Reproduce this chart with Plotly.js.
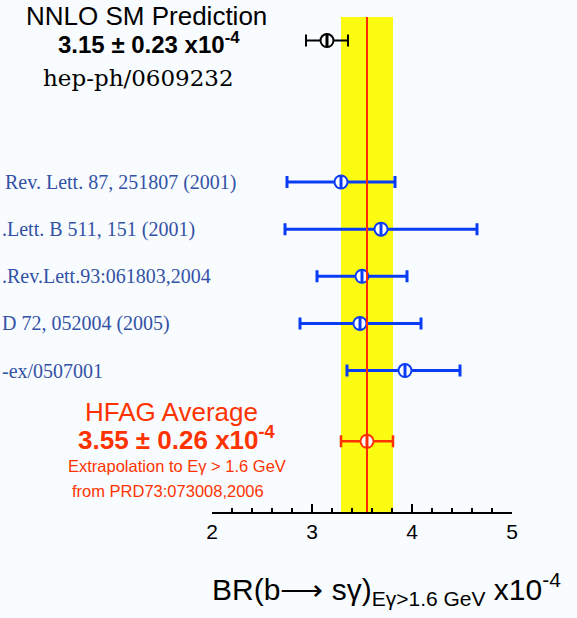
<!DOCTYPE html>
<html>
<head>
<meta charset="utf-8">
<script src="https://cdn.plot.ly/plotly-3.0.1.min.js"></script>
<style>
html,body{margin:0;padding:0;background:#f8fcfe;}
#chart{width:577px;height:618px;}
</style>
</head>
<body>
<div id="chart"></div>
<script>
// ---- data ----
const expLabels = ["Rev. Lett. 87, 251807 (2001)", ".Lett. B 511, 151 (2001)", ".Rev.Lett.93:061803,2004", "D 72, 052004 (2005)", "-ex/0507001"];
const expValues = [3.29, 3.69, 3.50, 3.48, 3.93];
const expErrPlus = [0.54, 0.96, 0.45, 0.61, 0.55];
const expErrMinus = [0.54, 0.96, 0.45, 0.60, 0.58];
const smValue = [3.15];
const smErr = [0.21];
const hfagValue = [3.55];
const hfagErr = [0.26];
const xTicks = [2, 3, 4, 5];

// ---- row layout (computed) ----
const hfagRow = [0];
const expRows = expValues.map((v, i) => 1.5 + (expValues.length - 1 - i));
const smRow = [expRows[0] + 3];

const L = 212, R = 65, T = 17, B = 106, W = 577, H = 618;
const pw = W - L - R, ph = H - T - B;
const px = p => (p - L) / pw;
const py = p => (H - B - p) / ph;

const blue = "#0a3cf5", black = "#000000", red = "#ff3300";

function markerLayers(xs, ys, col) {
  return [
    {x: xs, y: ys, type: "scatter", mode: "markers", hoverinfo: "skip",
     marker: {symbol: "circle", size: 15, color: col, line: {width: 0}}},
    {x: xs, y: ys, type: "scatter", mode: "markers", hoverinfo: "skip",
     marker: {symbol: "circle", size: 11, color: "#ffffff", line: {width: 0}}},
    {x: xs, y: ys, type: "scatter", mode: "markers", hoverinfo: "skip",
     marker: {symbol: "line-ns-open", size: 10, color: col, line: {width: 3, color: col}}}
  ];
}

const traces = [
  {x: expValues, y: expRows, type: "scatter", mode: "markers", hoverinfo: "skip",
   marker: {size: 1, color: blue},
   error_x: {type: "data", symmetric: false, array: expErrPlus, arrayminus: expErrMinus,
             color: blue, thickness: 3, width: 6}},
  {x: smValue, y: smRow, type: "scatter", mode: "markers", hoverinfo: "skip",
   marker: {size: 1, color: black},
   error_x: {type: "data", array: smErr, color: black, thickness: 2, width: 6}},
  {x: hfagValue, y: hfagRow, type: "scatter", mode: "markers", hoverinfo: "skip",
   marker: {size: 1, color: red},
   error_x: {type: "data", array: hfagErr, color: red, thickness: 2.5, width: 6}},
  ...markerLayers(expValues, expRows, blue),
  ...markerLayers(smValue, smRow, black),
  ...markerLayers(hfagValue, hfagRow, red)
];

const sans = "Liberation Sans, Arial, sans-serif";
const serif = "DejaVu Serif, serif";
const serif2 = "Liberation Serif, Times New Roman, serif";

const annotations = [
  {text: "NNLO SM Prediction", x: px(146), y: py(16), font: {family: sans, size: 26, color: black}},
  {text: "<b>" + smValue[0].toFixed(2) + " ± 0.23 x10<sup>-4</sup></b>", x: px(149), y: py(43), font: {family: sans, size: 24, color: black}},
  {text: "hep-ph/0609232", x: px(138), y: py(78), font: {family: serif, size: 23, color: black}},
  {text: "HFAG Average", x: px(171), y: py(412), font: {family: sans, size: 26, color: red}},
  {text: "<b>" + hfagValue[0].toFixed(2) + " ± " + hfagErr[0].toFixed(2) + " x10<sup>-4</sup></b>", x: px(177), y: py(439), font: {family: sans, size: 26, color: red}},
  {text: "Extrapolation to Eγ > 1.6 GeV", x: px(177), y: py(466), font: {family: sans, size: 16.5, color: red}},
  {text: "from PRD73:073008,2006", x: px(168), y: py(491), font: {family: sans, size: 16.5, color: red}},
  {text: "BR(b⟶ sγ)<sub>Eγ>1.6 GeV</sub> x10<sup>-4</sup>", x: px(386), y: py(589), font: {family: sans, size: 30, color: black}}
].map(a => Object.assign({xref: "paper", yref: "paper", showarrow: false, xanchor: "center", yanchor: "middle"}, a));

const labelStarts = [3, 0, 0, 0, 0];
expLabels.forEach((t, i) => {
  annotations.push({text: t, xref: "paper", yref: "y", x: px(labelStarts[i]), y: expRows[i],
    xanchor: "left", yanchor: "middle", showarrow: false,
    font: {family: serif2, size: 20, color: "#3352a6"}});
});

const layout = {
  width: W, height: H,
  margin: {l: L, r: R, t: T, b: B, pad: 0},
  paper_bgcolor: "#f8fcfe", plot_bgcolor: "#f8fcfe",
  showlegend: false,
  xaxis: {range: [2, 5], tickvals: xTicks, ticktext: xTicks.map(String),
          ticks: "inside", ticklen: 8, tickwidth: 2, tickcolor: black,
          minor: {dtick: 0.2, ticks: "inside", ticklen: 4, tickwidth: 2, tickcolor: black},
          showline: true, linewidth: 2, linecolor: black, showgrid: false, zeroline: false,
          tickfont: {family: sans, size: 21, color: black}, fixedrange: true},
  yaxis: {range: [-1.5, 9.0], visible: false, showgrid: false, zeroline: false, fixedrange: true},
  shapes: [
    {type: "rect", xref: "x", yref: "paper", x0: hfagValue[0] - hfagErr[0], x1: hfagValue[0] + hfagErr[0], y0: 0, y1: 1,
     fillcolor: "#fcfc12", line: {width: 0}, layer: "below"},
    {type: "line", xref: "x", yref: "paper", x0: hfagValue[0], x1: hfagValue[0], y0: 0, y1: 1,
     line: {color: "#ff2a00", width: 2}, layer: "above"}
  ],
  annotations: annotations
};

Plotly.newPlot("chart", traces, layout, {displayModeBar: false, staticPlot: true});
</script>
</body>
</html>
